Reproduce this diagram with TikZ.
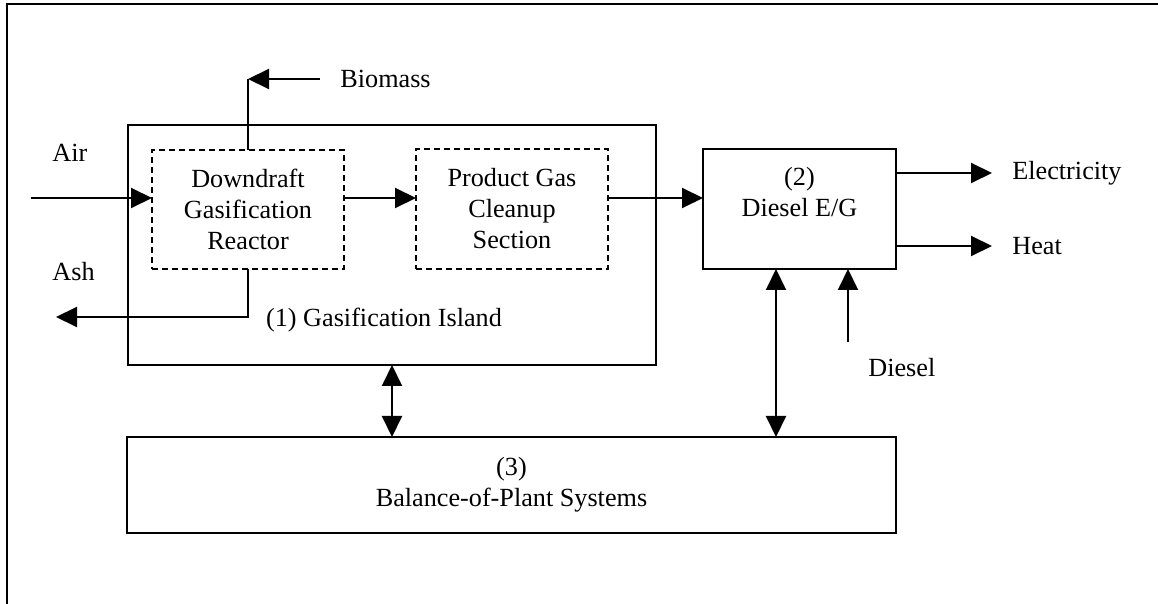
\documentclass[tikz,border=0pt]{standalone}
\usepackage{fontspec}
\setmainfont{Liberation Serif}
\usetikzlibrary{arrows.meta}
\begin{document}
\begin{tikzpicture}[x=0.5pt,y=-0.5pt,
  every node/.style={font=\fontsize{13.1}{15.5}\selectfont},
  box/.style={draw,line width=1pt,inner sep=0pt,outer sep=0pt,align=center},
  dbox/.style={box,dash pattern=on 3pt off 2pt},
  txt/.style={inner sep=0pt,align=center},
  ln/.style={line width=1pt},
  arr/.style={ln,-{Triangle[length=10.5pt,width=10pt]}},
  darr/.style={ln,{Triangle[length=10.5pt,width=10pt]}-{Triangle[length=10.5pt,width=10pt]}}]
\useasboundingbox (0,0) rectangle (1158,604);
% outer frame (cropped)
\draw[line width=1.25pt] (7,604) -- (7,4) -- (1158,4);
% boxes
\node[box,minimum width=264pt,minimum height=120pt] (island) at (392,245) {};
\node[dbox,minimum width=96pt,minimum height=59.5pt] (reactor) at (248,209.5) {Downdraft\\Gasification\\Reactor};
\node[dbox,minimum width=96pt,minimum height=60pt] (cleanup) at (512,209) {Product Gas\\Cleanup\\Section};
\node[box,minimum width=96.5pt,minimum height=60pt] (diesel) at (799.5,209) {};
\node[txt] (dieseltxt) at (799.5,192) {(2)\\Diesel E/G};
\node[box,minimum width=384.5pt,minimum height=48pt] (bop) at (511.5,485) {(3)\\Balance-of-Plant Systems};
% labels
\node[txt] (islandtxt) at (384,320) {(1) Gasification Island};
\node[txt,anchor=west] (biomass) at (340,79) {Biomass};
\node[txt,anchor=west] (air) at (52,153) {Air};
\node[txt,anchor=west] (ash) at (52,272) {Ash};
\node[txt,anchor=west] (elec) at (1012,173) {Electricity};
\node[txt,anchor=west] (heat) at (1012,246) {Heat};
\node[txt,anchor=west] (dieselin) at (868,368) {Diesel};
% coordinates
\coordinate (airstart) at (31,198);
\coordinate (flow) at (0,198);
\coordinate (ashend) at (56,317);
\coordinate (elecend) at (992,173);
\coordinate (heatend) at (992,246);
\coordinate (dstart) at (848,342);
\coordinate (c2) at (776,0);
% connectors
\draw[arr] ([xshift=-10pt]biomass.west) -- (reactor.north |- biomass.west);
\draw[ln] (reactor.north) -- (reactor.north |- biomass.west);
\draw[arr] (airstart) -- (airstart -| reactor.west);
\draw[arr] (reactor.south) |- (ashend);
\draw[arr] (reactor.east |- flow) -- (cleanup.west |- flow);
\draw[arr] (cleanup.east |- flow) -- (diesel.west |- flow);
\draw[arr] (elecend -| diesel.east) -- (elecend);
\draw[arr] (heatend -| diesel.east) -- (heatend);
\draw[arr] (dstart) -- (dstart |- diesel.south);
\draw[darr] (island.south) -- (island.south |- bop.north);
\draw[darr] (diesel.south -| c2) -- (bop.north -| c2);
\end{tikzpicture}
\end{document}
